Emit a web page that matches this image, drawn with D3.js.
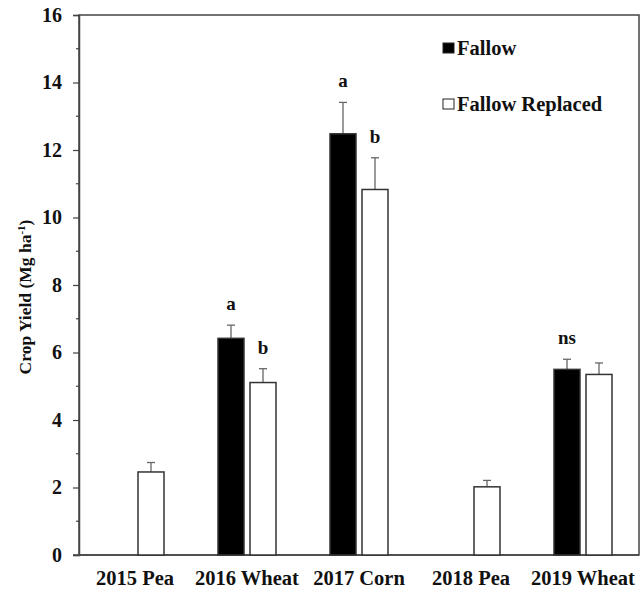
<!DOCTYPE html>
<html>
<head>
<meta charset="utf-8">
<script src="https://cdn.jsdelivr.net/npm/d3@7"></script>
<style>
  body { margin: 0; background: #fff; }
  svg text { font-family: "Liberation Serif", "Times New Roman", serif !important; font-weight: bold; fill: #111; }
</style>
</head>
<body>
<div id="chart"></div>
<script>
// chart data
const crops = ["2015 Pea", "2016 Wheat", "2017 Corn", "2018 Pea", "2019 Wheat"];
const seriesNames = ["Fallow", "Fallow Replaced"];
const fallow = [null, 6.42, 12.48, null, 5.50];
const fallowErr = [null, 0.39, 0.93, null, 0.30];
const replaced = [2.46, 5.11, 10.83, 2.02, 5.35];
const replacedErr = [0.28, 0.41, 0.94, 0.19, 0.34];
const fallowLetters = [null, "a", "a", null, "ns"];
const replacedLetters = [null, "b", "b", null, null];
const yTicks = [0, 2, 4, 6, 8, 10, 12, 14, 16];

const width = 643, height = 592;
const margin = {top: 15, right: 4, bottom: 37, left: 79};

const svg = d3.select("#chart").append("svg")
  .attr("width", width)
  .attr("height", height);

const x = d3.scaleBand()
  .domain(crops)
  .range([margin.left, width - margin.right]);

const y = d3.scaleLinear()
  .domain([0, 16])
  .range([height - margin.bottom, margin.top]);

const axisColor = "#444";
const barW = 26;

// frame (top and right)
svg.append("rect")
  .attr("x", margin.left)
  .attr("y", y(16))
  .attr("width", x.range()[1] - margin.left)
  .attr("height", y(0) - y(16))
  .attr("fill", "none")
  .attr("stroke", axisColor)
  .attr("stroke-width", 1.5);

// y axis
const yAxis = svg.append("g")
  .attr("transform", `translate(${margin.left},0)`)
  .call(d3.axisLeft(y).tickValues(yTicks).tickSize(6).tickPadding(11).tickFormat(d3.format("d")));
yAxis.attr("font-family", null);
yAxis.select(".domain").attr("stroke", axisColor).attr("stroke-width", 1.5);
yAxis.selectAll(".tick line").attr("stroke", axisColor).attr("stroke-width", 1.2);
yAxis.selectAll("text").style("font-size", "20px").attr("fill", "#111");

// minor ticks
svg.append("g").selectAll("line")
  .data(d3.range(1, 16, 2))
  .enter().append("line")
  .attr("x1", margin.left - 3)
  .attr("x2", margin.left)
  .attr("y1", d => y(d))
  .attr("y2", d => y(d))
  .attr("stroke", axisColor)
  .attr("stroke-width", 1.2);

// x axis line
svg.append("line")
  .attr("x1", margin.left - 6)
  .attr("x2", x.range()[1])
  .attr("y1", y(0))
  .attr("y2", y(0))
  .attr("stroke", axisColor)
  .attr("stroke-width", 1.5);

// x labels
svg.append("g").selectAll("text")
  .data(crops)
  .enter().append("text")
  .attr("x", d => x(d) + x.bandwidth() / 2)
  .attr("y", height - 7)
  .attr("text-anchor", "middle")
  .style("font-size", "20.5px")
  .text(d => d);

// bars for both series
function drawSeries(values, errs, letters, offset, fill) {
  const g = svg.append("g");
  crops.forEach((c, i) => {
    const v = values[i];
    if (v == null) return;
    const cx = x(c) + x.bandwidth() / 2 + offset;
    // error bar (upper only)
    const top = y(v + errs[i]);
    g.append("line")
      .attr("x1", cx).attr("x2", cx)
      .attr("y1", y(v)).attr("y2", top)
      .attr("stroke", "#666").attr("stroke-width", 1.3);
    g.append("line")
      .attr("x1", cx - 4).attr("x2", cx + 4)
      .attr("y1", top).attr("y2", top)
      .attr("stroke", "#666").attr("stroke-width", 1.3);
    g.append("rect")
      .attr("x", cx - barW / 2)
      .attr("y", y(v))
      .attr("width", barW)
      .attr("height", y(0) - y(v))
      .attr("fill", fill)
      .attr("stroke", "#333")
      .attr("stroke-width", 1.5);
    if (letters[i]) {
      g.append("text")
        .attr("x", cx)
        .attr("y", top - 15)
        .attr("text-anchor", "middle")
        .style("font-size", "19px")
        .text(letters[i]);
    }
  });
}

drawSeries(fallow, fallowErr, fallowLetters, -16, "#000");
drawSeries(replaced, replacedErr, replacedLetters, 16, "#fff");

// legend
const legend = svg.append("g").attr("transform", "translate(443,43)");
seriesNames.forEach((name, i) => {
  const row = legend.append("g").attr("transform", `translate(0,${i * 56})`);
  row.append("rect")
    .attr("width", 11).attr("height", 10)
    .attr("fill", i === 0 ? "#000" : "#fff")
    .attr("stroke", "#222").attr("stroke-width", 1);
  row.append("text")
    .attr("x", 14)
    .attr("y", 12)
    .style("font-size", "20.5px")
    .text(name);
});

// y axis title
const yt = svg.append("text")
  .attr("transform", `translate(31,${(y(0) + y(16)) / 2 + 12}) rotate(-90)`)
  .attr("text-anchor", "middle")
  .style("font-size", "17.5px");
yt.append("tspan").text("Crop Yield (Mg ha");
yt.append("tspan").attr("dy", -6).style("font-size", "11px").text("-1");
yt.append("tspan").attr("dy", 6).text(")");
</script>
</body>
</html>
